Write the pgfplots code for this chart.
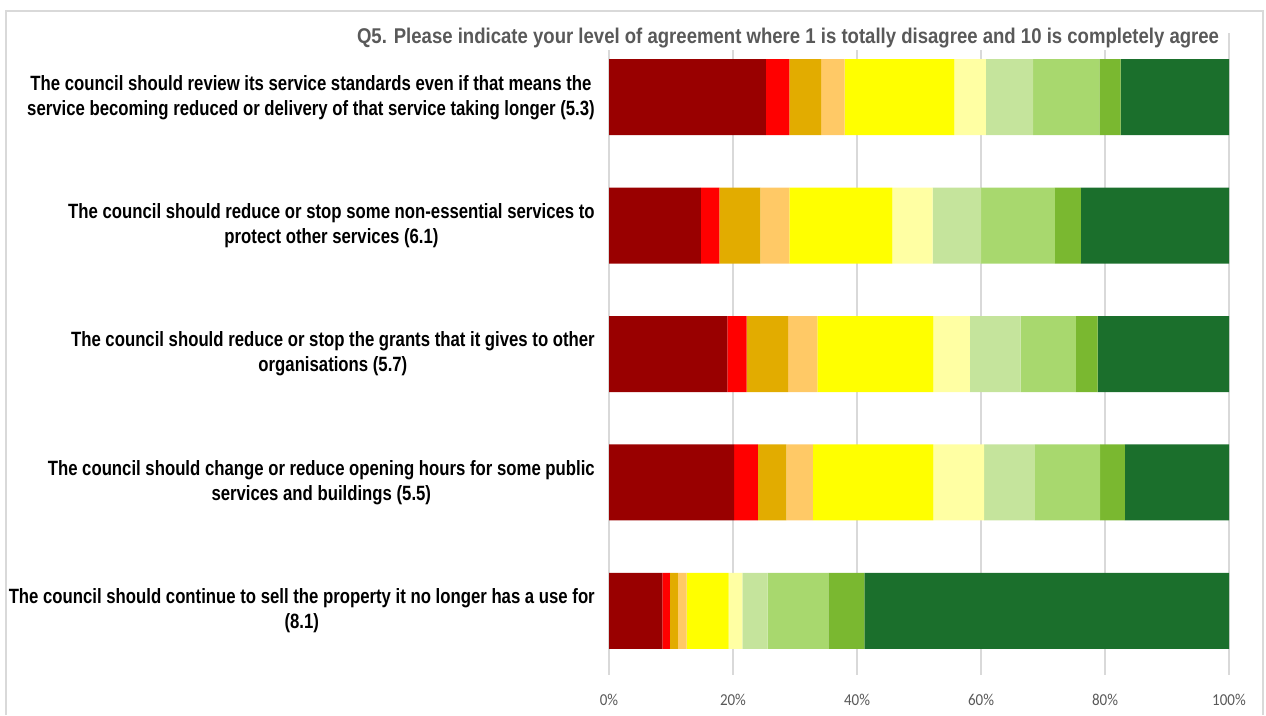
\documentclass[border=0pt]{standalone}
\usepackage{fontspec}
\setmainfont{Liberation Sans}[FakeStretch=0.81]
\newfontfamily\titlefont{Liberation Sans}[FakeStretch=0.87]
\newfontfamily\tickfont{Carlito}[FakeStretch=0.9]
\usepackage{pgfplots}
\pgfplotsset{compat=1.18}

\definecolor{s1}{HTML}{990000}
\definecolor{s2}{HTML}{FF0000}
\definecolor{s3}{HTML}{E2AC00}
\definecolor{s4}{HTML}{FFC966}
\definecolor{s5}{HTML}{FFFF00}
\definecolor{s6}{HTML}{FFFFA3}
\definecolor{s7}{HTML}{C5E49C}
\definecolor{s8}{HTML}{A8D86E}
\definecolor{s9}{HTML}{7AB830}
\definecolor{s10}{HTML}{1B6F2C}
\definecolor{txtgray}{HTML}{595959}
\definecolor{gridgray}{HTML}{D9D9D9}

\begin{document}
\begin{tikzpicture}
\path[use as bounding box] (0,0) rectangle (949.5pt,536.25pt);
% outer frame (open at the bottom)
\draw[gridgray, line width=1.2pt] (4.5pt,0) -- (4.5pt,528pt) -- (947.25pt,528pt) -- (947.25pt,0);

\begin{axis}[
  at={(456.75pt,30pt)}, anchor=south west,
  scale only axis, width=465pt, height=481.5pt,
  xbar stacked, bar width=0.592,
  xmin=0, xmax=100, ymin=-0.5, ymax=4.5,
  y dir=reverse,
  axis line style={draw=none},
  major tick length=0pt,
  xmajorgrids, grid style={gridgray, line width=0.9pt},
  xtick={0,20,40,60,80,100},
  xticklabels={0\%,20\%,40\%,60\%,80\%,100\%},
  x tick label style={font=\tickfont\fontsize{12.5}{13}\selectfont, text=txtgray, anchor=center, yshift=-18.75pt},
  ytick={0,1,2,3,4},
  yticklabels={
    {The council should review its service standards even if that means the\\service becoming reduced or delivery of that service taking longer (5.3)},
    {The council should reduce or stop some non-essential services to\\protect other services (6.1)},
    {The council should reduce or stop the grants that it gives to other\\organisations (5.7)},
    {The council should change or reduce opening hours for some public\\services and buildings (5.5)},
    {The council should continue to sell the property it no longer has a use for\\(8.1)}},
  y tick label style={font=\bfseries\fontsize{15.5}{18.75}\selectfont, align=center, anchor=east, inner sep=0pt, xshift=-10.5pt},
]
\addplot[fill=s1, draw=none] coordinates {(25.3,0) (14.8,1) (19.1,2) (20.2,3) (8.6,4)};
\addplot[fill=s2, draw=none] coordinates {(3.8,0) (3.0,1) (3.1,2) (3.8,3) (1.2,4)};
\addplot[fill=s3, draw=none] coordinates {(5.1,0) (6.6,1) (6.7,2) (4.6,3) (1.3,4)};
\addplot[fill=s4, draw=none] coordinates {(3.8,0) (4.7,1) (4.7,2) (4.3,3) (1.4,4)};
\addplot[fill=s5, draw=none] coordinates {(17.7,0) (16.6,1) (18.7,2) (19.4,3) (6.8,4)};
\addplot[fill=s6, draw=none] coordinates {(5.1,0) (6.5,1) (5.9,2) (8.2,3) (2.2,4)};
\addplot[fill=s7, draw=none] coordinates {(7.6,0) (7.8,1) (8.2,2) (8.2,3) (4.1,4)};
\addplot[fill=s8, draw=none] coordinates {(10.7,0) (11.9,1) (8.9,2) (10.5,3) (9.8,4)};
\addplot[fill=s9, draw=none] coordinates {(3.4,0) (4.2,1) (3.5,2) (4.0,3) (5.8,4)};
\addplot[fill=s10, draw=none] coordinates {(17.5,0) (23.9,1) (21.2,2) (16.8,3) (58.8,4)};
\end{axis}

\node[anchor=east, fill=white, inner sep=1.5pt, text=txtgray, font=\titlefont\bfseries\fontsize{16}{18}\selectfont]
  at (916pt,507.75pt) {Q5. Please indicate your level of agreement where 1 is totally disagree and 10 is completely agree};
\end{tikzpicture}
\end{document}
